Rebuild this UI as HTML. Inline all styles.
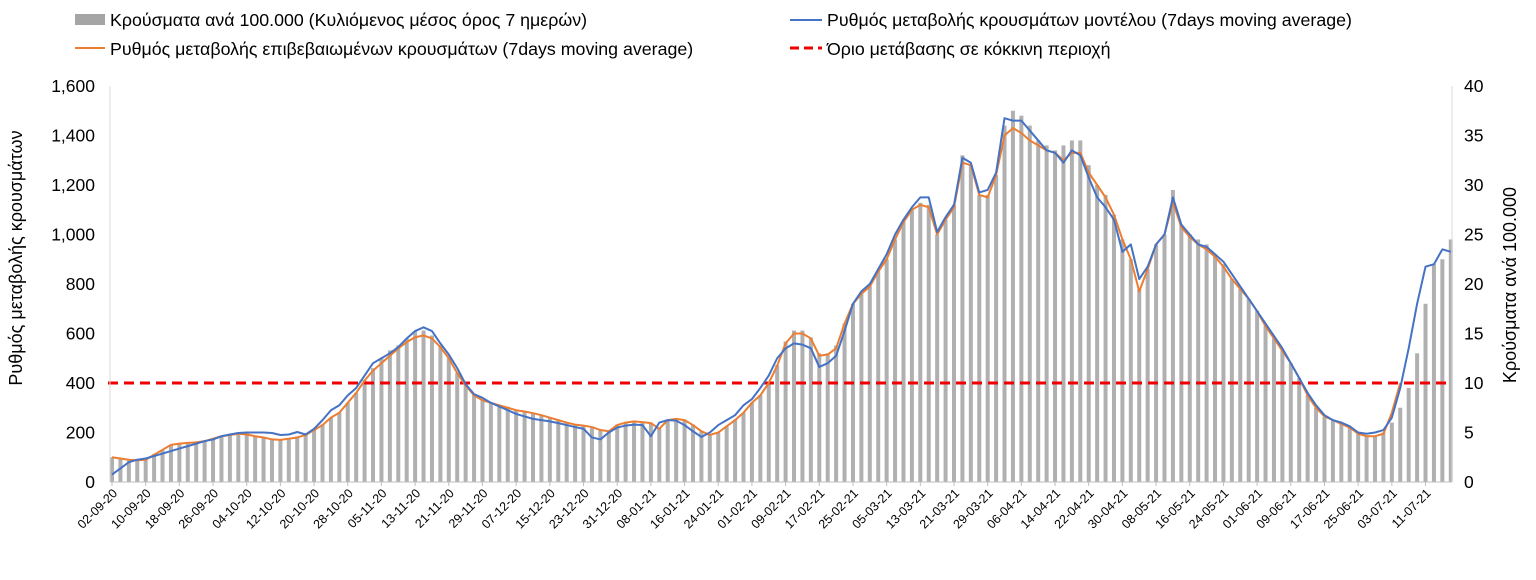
<!DOCTYPE html>
<html><head><meta charset="utf-8">
<style>
body{margin:0;background:#fff;font-family:"Liberation Sans",sans-serif;}
svg text{font-family:"Liberation Sans",sans-serif;}
</style></head>
<body>
<svg id="chart" width="1536" height="575" xmlns="http://www.w3.org/2000/svg">
<g>
 <g><rect x="75" y="14" width="30" height="11" fill="#a5a5a5"/><text x="110" y="26" font-size="17.8" fill="#000">Κρούσματα ανά 100.000 (Κυλιόμενος μέσος όρος 7 ημερών)</text></g>
 <g><line x1="790" y1="20" x2="822" y2="20" stroke="#4472c4" stroke-width="2"/><text x="827" y="26" font-size="17.8" fill="#000">Ρυθμός μεταβολής κρουσμάτων μοντέλου (7days moving average)</text></g>
 <g><line x1="75" y1="48" x2="105" y2="48" stroke="#ed7d31" stroke-width="2"/><text x="110" y="55" font-size="17.8" fill="#000">Ρυθμός μεταβολής επιβεβαιωμένων κρουσμάτων (7days moving average)</text></g>
 <g><line x1="790" y1="48" x2="822" y2="48" stroke="#e00" stroke-width="3" stroke-dasharray="9,5"/><text x="827" y="55" font-size="17.8" fill="#000">Όριο μετάβασης σε κόκκινη περιοχή</text></g>
</g>
<text transform="translate(22,258) rotate(-90)" text-anchor="middle" font-size="18">Ρυθμός μεταβολής κρουσμάτων</text>
<text transform="translate(1516,285) rotate(-90)" text-anchor="middle" font-size="18">Κρούσματα ανά 100.000</text>
<g id="plot"></g>
</svg>
<script>
const blueVals=[30,55,80,90,95,105,115,125,135,145,155,165,172,185,192,198,200,200,200,198,190,192,202,192,215,250,290,310,350,380,430,480,500,520,545,580,610,625,610,560,515,460,395,355,340,320,305,290,275,265,255,250,245,238,230,222,215,180,172,200,220,228,232,230,185,240,250,248,230,205,182,200,230,250,270,310,335,380,430,500,540,560,555,540,465,480,510,610,720,770,800,860,920,1000,1060,1110,1150,1150,1010,1070,1120,1310,1290,1170,1180,1250,1470,1460,1460,1420,1380,1340,1330,1290,1340,1320,1230,1150,1110,1060,930,960,820,870,960,1000,1150,1040,1000,960,950,920,890,840,790,740,690,640,590,540,480,420,360,310,270,250,240,225,200,195,200,210,260,380,540,720,870,880,940,930];
const orangeVals=[100,95,90,88,90,110,130,150,155,158,160,165,175,185,190,195,192,185,180,172,170,175,180,190,210,230,260,280,320,360,410,450,480,510,540,565,585,592,580,545,500,440,390,350,330,320,310,300,290,285,278,270,260,250,240,232,228,222,210,205,230,240,245,242,238,215,250,255,250,230,205,190,200,225,250,280,320,350,400,470,560,600,600,580,510,515,540,640,720,760,790,850,900,980,1050,1100,1120,1110,1000,1060,1110,1290,1280,1160,1150,1240,1400,1430,1410,1380,1360,1340,1330,1300,1330,1330,1250,1200,1150,1080,980,900,770,860,960,1000,1130,1030,990,960,940,910,870,820,780,740,690,630,580,530,480,420,350,300,265,250,235,220,195,185,185,195,280,400];
const barVals=[2.5,2.4,2.3,2.3,2.4,2.8,3.2,3.7,3.9,4.0,4.1,4.2,4.4,4.6,4.8,4.9,4.9,4.7,4.5,4.4,4.3,4.4,4.6,4.8,5.3,5.8,6.5,7.0,8.0,9.0,10.3,11.5,12.5,13.3,13.8,14.5,15.2,15.3,14.8,13.8,12.5,11.0,9.8,8.8,8.3,8.0,7.8,7.6,7.3,7.1,6.9,6.8,6.5,6.3,6.0,5.8,5.7,5.5,5.2,5.1,5.8,6.0,6.1,6.1,6.0,5.4,6.3,6.4,6.3,5.8,5.1,4.8,5.0,5.6,6.3,7.0,8.0,8.8,10.0,11.8,14.2,15.3,15.3,14.6,13.0,13.0,13.8,16.0,18.0,19.0,19.8,21.3,22.5,24.5,26.3,27.5,28.2,28.0,25.0,26.5,28.0,33.0,32.0,29.0,29.0,31.0,36.0,37.5,37.0,36.0,34.5,34.0,33.5,34.0,34.5,34.5,32.0,30.0,29.0,27.0,24.5,22.5,19.5,21.5,24.0,25.0,29.5,26.0,25.0,24.5,24.0,23.0,22.0,20.5,19.5,18.5,17.3,15.8,14.5,13.3,12.0,10.5,8.8,7.5,6.6,6.2,5.9,5.5,4.9,4.7,4.7,5.0,6.0,7.5,9.5,13.0,18.0,22.0,22.5,24.5];
const dateLabels=["02-09-20","10-09-20","18-09-20","26-09-20","04-10-20","12-10-20","20-10-20","28-10-20","05-11-20","13-11-20","21-11-20","29-11-20","07-12-20","15-12-20","23-12-20","31-12-20","08-01-21","16-01-21","24-01-21","01-02-21","09-02-21","17-02-21","25-02-21","05-03-21","13-03-21","21-03-21","29-03-21","06-04-21","14-04-21","22-04-21","30-04-21","08-05-21","16-05-21","24-05-21","01-06-21","09-06-21","17-06-21","25-06-21","03-07-21","11-07-21"];
const leftTicks=[0,200,400,600,800,1000,1200,1400,1600];
const rightTicks=[0,5,10,15,20,25,30,35,40];
const threshold=[400];
const DAYSTEP=2, LABELSTEP=8;

const NS="http://www.w3.org/2000/svg";
const g=document.getElementById('plot');
const X0=112, PXD=4.21, Y0=482, YTOP=86;
const xDay=d=>X0+d*PXD;
const yL=v=>Y0-(v/1600)*(Y0-YTOP);
const yR=v=>Y0-(v/40)*(Y0-YTOP);
function mk(t,a){const e=document.createElementNS(NS,t);for(const k in a)e.setAttribute(k,a[k]);g.appendChild(e);return e;}

barVals.forEach((v,i)=>{
 const x=xDay(i*DAYSTEP);
 const r=mk('rect',{x:x-2,y:yR(v),width:4,height:Y0-yR(v),fill:'#b0b0b0'});
 
 
});
const th=mk('line',{x1:108,x2:1452,y1:yL(threshold[0]),y2:yL(threshold[0]),stroke:'#e00','stroke-width':3,'stroke-dasharray':'10,6'});


function line(vals,color,name){
 const p=mk('polyline',{points:vals.map((v,i)=>xDay(i*DAYSTEP)+','+yL(v)).join(' '),fill:'none',stroke:color,'stroke-width':2,'stroke-linejoin':'round'});
 
 
}
line(orangeVals,'#ed7d31','confirmed-rate-line');
line(blueVals,'#4472c4','model-rate-line');

const ax=mk('line',{x1:110,x2:1452,y1:Y0,y2:Y0,stroke:'#bfbfbf','stroke-width':1});


const la=mk('line',{x1:110,x2:110,y1:YTOP,y2:Y0,stroke:'#d9d9d9','stroke-width':1});


const ra=mk('line',{x1:1452,x2:1452,y1:YTOP,y2:Y0,stroke:'#d9d9d9','stroke-width':1});



leftTicks.forEach(v=>{
 const t=mk('text',{x:95,y:yL(v)+6,'text-anchor':'end','font-size':17.5,fill:'#000'});
 t.textContent=v.toLocaleString('en-US');
 
 
});
rightTicks.forEach(v=>{
 const t=mk('text',{x:1464,y:yR(v)+6,'font-size':17.5,fill:'#000'});
 t.textContent=v;
 
 
});
dateLabels.forEach((s,i)=>{
 const x=xDay(i*LABELSTEP);
 mk('line',{x1:x,x2:x,y1:Y0,y2:Y0+4,stroke:'#bfbfbf'});
 const t=mk('text',{x:x+6,y:Y0+12,'text-anchor':'end','font-size':12.5,fill:'#000',transform:`rotate(-45 ${x+6} ${Y0+12})`});
 t.textContent=s;
 
 
});
</script>
</body></html>
